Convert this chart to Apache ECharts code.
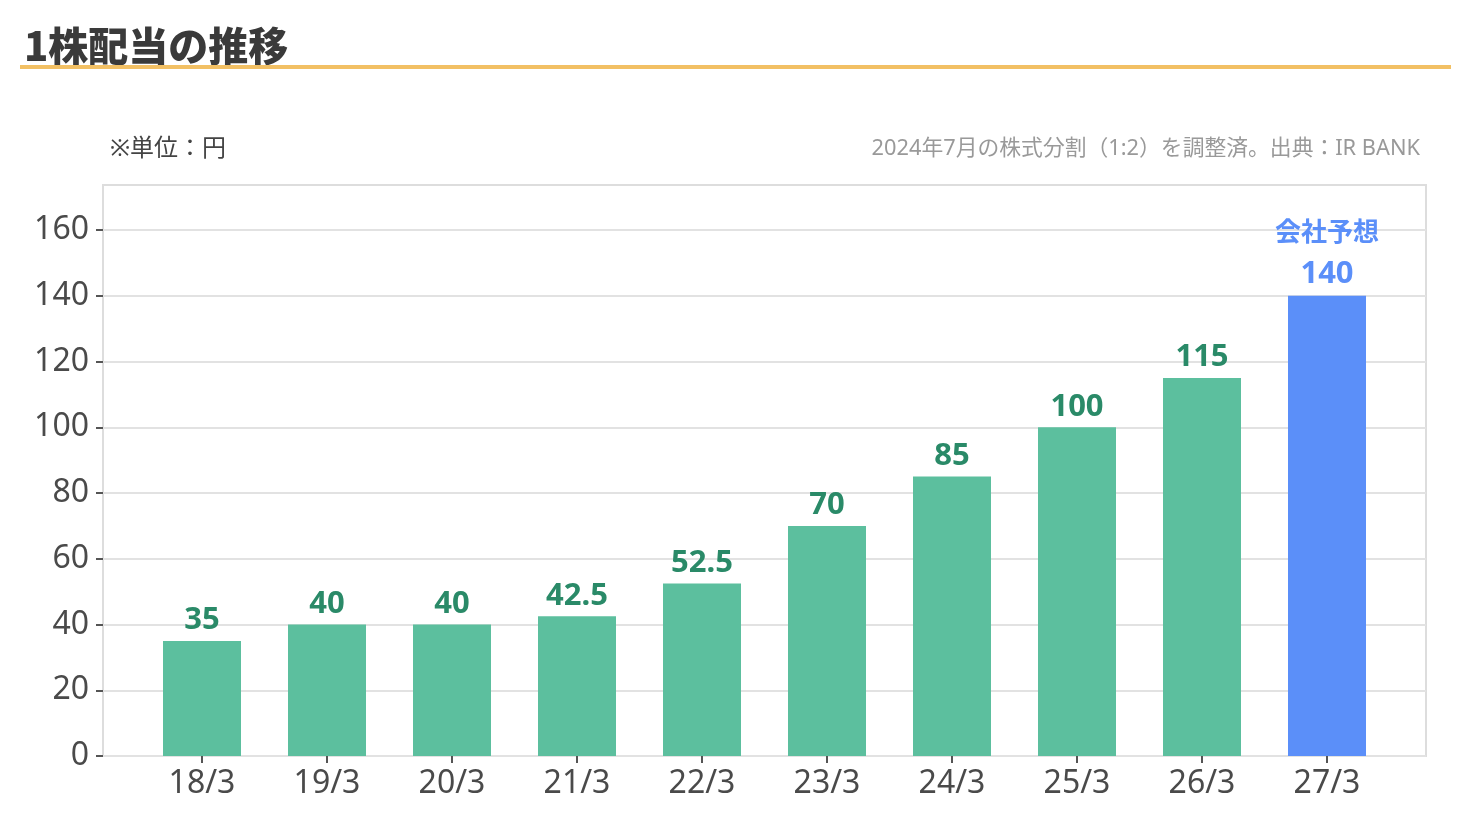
<!DOCTYPE html>
<html><head><meta charset="utf-8">
<script src="https://cdn.jsdelivr.net/npm/echarts@6/dist/echarts.min.js"></script>
<style>html,body{margin:0;padding:0;background:#fff}#c{width:1470px;height:840px}</style>
</head><body><div id="c"></div>
<script>
const categories = ['18/3','19/3','20/3','21/3','22/3','23/3','24/3','25/3','26/3','27/3'];
const dividends = [35, 40, 40, 42.5, 52.5, 70, 85, 100, 115, 140];
const forecastIndex = 9;
const yTicks = [0, 20, 40, 60, 80, 100, 120, 140, 160];
const titleText = '1株配当の推移';
const unitText = '※単位：円';
const noteText = '2024年7月の株式分割（1:2）を調整済。出典：IR BANK';
const forecastLabel = '会社予想';

const FONT = '"Noto Sans", "Noto Sans CJK JP", sans-serif';
const YMAX = 173.7;
const chart = echarts.init(document.getElementById('c'));
chart.setOption({
  animation: false,
  textStyle: { fontFamily: FONT },
  graphic: [
    { type: 'text', left: 24, top: 26, style: { text: titleText, font: '900 40px "Noto Sans CJK JP", sans-serif', fill: '#3a3a3a' } },
    { type: 'rect', shape: { x: 20, y: 65, width: 1431, height: 4 }, style: { fill: '#f2c064' } },
    { type: 'text', left: 110, top: 137, style: { text: unitText, font: '24px ' + FONT, fill: '#444' } },
    { type: 'text', right: 50, top: 138, style: { text: noteText, font: '21.8px ' + FONT, fill: '#999' } }
  ],
  grid: [
    { left: 103, top: 185, width: 1323, height: 571, show: true, borderColor: '#dddddd', borderWidth: 2, backgroundColor: 'transparent' },
    { left: 139.5, top: 185, width: 1250, height: 571 }
  ],
  xAxis: [
    { type: 'value', gridIndex: 0, min: 0, max: 1, show: false },
    { type: 'category', gridIndex: 1, data: categories,
      axisLine: { show: false },
      axisTick: { show: true, alignWithLabel: true, length: 7, lineStyle: { color: '#555', width: 2 } },
      axisLabel: { fontSize: 32, color: '#4a4a4a', margin: 12, fontFamily: FONT } }
  ],
  yAxis: [
    { type: 'value', gridIndex: 0, min: 0, max: YMAX, interval: 20,
      axisLine: { show: false },
      axisTick: { show: true, length: 7, lineStyle: { color: '#555', width: 2 }, customValues: yTicks },
      axisLabel: { fontSize: 32, color: '#4a4a4a', margin: 14, customValues: yTicks, fontFamily: FONT },
      splitLine: { show: true, lineStyle: { color: '#e2e2e2', width: 2 } } },
    { type: 'value', gridIndex: 1, min: 0, max: YMAX, show: false, splitLine: { show: false } }
  ],
  series: [{
    type: 'bar', xAxisIndex: 1, yAxisIndex: 1, barWidth: 78,
    data: dividends.map((v, i) => ({
      value: v,
      itemStyle: { color: i === forecastIndex ? '#5b8ff9' : '#5cbf9e' },
      label: i === forecastIndex ? {
        formatter: forecastLabel + '\n{v|' + v + '}', color: '#5b8ff9', fontSize: 26, fontWeight: 'bold', lineHeight: 40, distance: 2,
        rich: { v: { fontSize: 31, fontWeight: 'bold', color: '#5b8ff9', fontFamily: FONT, lineHeight: 40 } }
      } : {}
    })),
    label: { show: true, position: 'top', distance: 5, color: '#2a8a68', fontSize: 31, fontWeight: 'bold', fontFamily: FONT }
  }]
});
</script></body></html>
